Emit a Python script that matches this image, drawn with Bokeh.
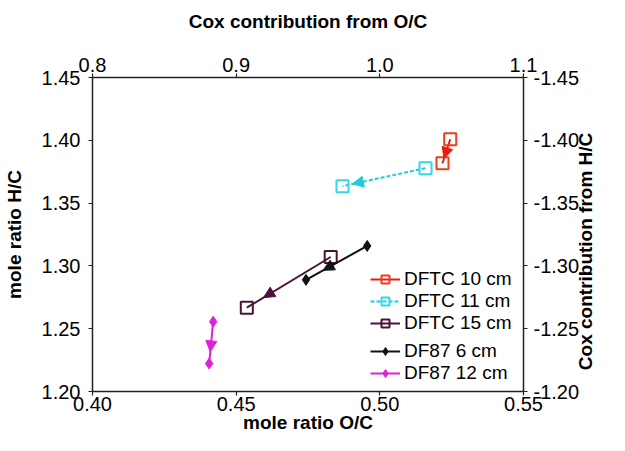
import math
from bokeh.plotting import figure
from bokeh.models import (Range1d, LinearAxis, FixedTicker, NumeralTickFormatter,
                          Legend, LegendItem, Arrow, NormalHead)
from bokeh.embed import file_html
from bokeh.resources import INLINE

# ---- data ----
dftc10_oc = [0.5245, 0.5218]
dftc10_hc = [1.4008, 1.3817]
dftc11_oc = [0.5159, 0.4870]
dftc11_hc = [1.3778, 1.3635]
dftc15_oc = [0.4829, 0.4537]
dftc15_hc = [1.3071, 1.2667]
df87_6_oc = [0.4956, 0.4743]
df87_6_hc = [1.3159, 1.2889]
df87_12_oc = [0.4420, 0.4406]
df87_12_hc = [1.2556, 1.2222]

x_ticks = [0.40, 0.45, 0.50, 0.55]
y_ticks = [1.20, 1.25, 1.30, 1.35, 1.40, 1.45]
cox_oc_ticks = [0.8, 0.9, 1.0, 1.1]
cox_hc_ticks = [-1.45, -1.40, -1.35, -1.30, -1.25, -1.20]

labels = ["DFTC 10 cm", "DFTC 11 cm", "DFTC 15 cm", "DF87 6 cm", "DF87 12 cm"]
right_title = "Cox contribution from H/C"
right_title_start = -1.217   # where the rotated right-hand title begins (bottom end)

FONT = "Liberation Sans"

p = figure(width=609, height=435, output_backend="svg", toolbar_location=None,
           x_range=Range1d(0.40, 0.55), y_range=Range1d(1.20, 1.45),
           min_border_left=88, min_border_right=85, min_border_top=77, min_border_bottom=43)
p.extra_x_ranges = {"cox": Range1d(0.8, 1.1)}
p.extra_y_ranges = {"coxh": Range1d(-1.20, -1.45)}
p.xgrid.visible = False
p.ygrid.visible = False
p.outline_line_color = None
p.background_fill_color = "white"
p.border_fill_color = "white"

bottom_ax = p.below[0]
left_ax = p.left[0]
top_ax = LinearAxis(x_range_name="cox")
right_ax = LinearAxis(y_range_name="coxh")
title_ax = LinearAxis(y_range_name="coxh")
p.add_layout(top_ax, "above")
p.add_layout(right_ax, "right")
p.add_layout(title_ax, "right")

bottom_ax.ticker = FixedTicker(ticks=x_ticks)
left_ax.ticker = FixedTicker(ticks=y_ticks)
top_ax.ticker = FixedTicker(ticks=cox_oc_ticks)
right_ax.ticker = FixedTicker(ticks=cox_hc_ticks)

bottom_ax.formatter = NumeralTickFormatter(format="0.00")
left_ax.formatter = NumeralTickFormatter(format="0.00")
top_ax.formatter = NumeralTickFormatter(format="0.0")
right_ax.formatter = NumeralTickFormatter(format="0.00")

for ax in (bottom_ax, left_ax, top_ax, right_ax):
    ax.axis_line_width = 1.5
    ax.axis_line_color = "#222222"
    ax.major_tick_line_color = "#222222"
    ax.major_tick_line_width = 1.2
    ax.major_tick_out = 4
    ax.major_tick_in = 0
    ax.minor_tick_line_color = None
    ax.major_label_text_font = FONT
    ax.major_label_text_font_size = "20px"
    ax.major_label_text_color = "black"
    ax.axis_label_text_font = FONT
    ax.axis_label_text_font_style = "bold"
    ax.axis_label_text_font_size = "19px"
    ax.axis_label_text_color = "black"

# right-hand title drawn as the single (rotated) label of an invisible axis
title_ax.ticker = FixedTicker(ticks=[right_title_start])
title_ax.major_label_overrides = {right_title_start: right_title}
title_ax.major_label_orientation = math.pi / 2
title_ax.axis_line_color = None
title_ax.major_tick_line_color = None
title_ax.minor_tick_line_color = None
title_ax.major_tick_out = 0
title_ax.major_tick_in = 0
title_ax.major_label_standoff = 3
title_ax.major_label_text_font = FONT
title_ax.major_label_text_font_style = "bold"
title_ax.major_label_text_font_size = "19px"
title_ax.major_label_text_color = "black"

bottom_ax.axis_label = "mole ratio O/C"
left_ax.axis_label = "mole ratio H/C"
top_ax.axis_label = "Cox contribution from O/C"

bottom_ax.major_label_standoff = 1
bottom_ax.axis_label_standoff = -2
left_ax.major_label_standoff = 8
left_ax.axis_label_standoff = 14
top_ax.major_label_standoff = 2
top_ax.axis_label_standoff = 23
right_ax.major_label_standoff = 6

series = [
    (dftc10_oc, dftc10_hc, "#E8401C", "#EE1A10", "square", 12, "solid", 0.80),
    (dftc11_oc, dftc11_hc, "#33D8E2", "#22CCDA", "square", 12, "4 2", 0.88),
    (dftc15_oc, dftc15_hc, "#4A1238", "#4A1238", "square", 12, "solid", 0.80),
    (df87_6_oc, df87_6_hc, "#111111", "#111111", "diamond", 11, "solid", 0.72),
    (df87_12_oc, df87_12_hc, "#E020D8", "#E020D8", "diamond", 11, "solid", 0.72),
]

items = []
for (xs, ys, mcol, lcol, marker, size, dash, frac), lab in zip(series, labels):
    lr = p.line(xs, ys, line_color=lcol, line_width=2, line_dash=dash)
    if marker == "square":
        sr = p.scatter(xs, ys, marker="square", size=size, line_color=mcol,
                       line_width=2, fill_color="white", fill_alpha=0.0)
    else:
        sr = p.scatter(xs, ys, marker="diamond", size=size, line_color=mcol,
                       fill_color=mcol)
    xe = xs[0] + (xs[1] - xs[0]) * frac
    ye = ys[0] + (ys[1] - ys[0]) * frac
    p.add_layout(Arrow(end=NormalHead(size=11, fill_color=lcol, line_color=lcol),
                       x_start=xs[0], y_start=ys[0], x_end=xe, y_end=ye,
                       line_alpha=0.0))
    items.append(LegendItem(label=lab, renderers=[lr, sr]))

def make_legend(its, loc):
    return Legend(items=its, location=loc, padding=0, margin=0, spacing=0,
                  label_height=20, glyph_height=20, glyph_width=30, label_standoff=4,
                  label_text_font=FONT, label_text_font_size="19px",
                  label_text_color="black", border_line_alpha=0,
                  background_fill_alpha=0)

p.add_layout(make_legend(items[:3], (278, 57)))
p.add_layout(make_legend(items[3:], (278, 7)))

open("out.html", "w").write(file_html(p, INLINE))
